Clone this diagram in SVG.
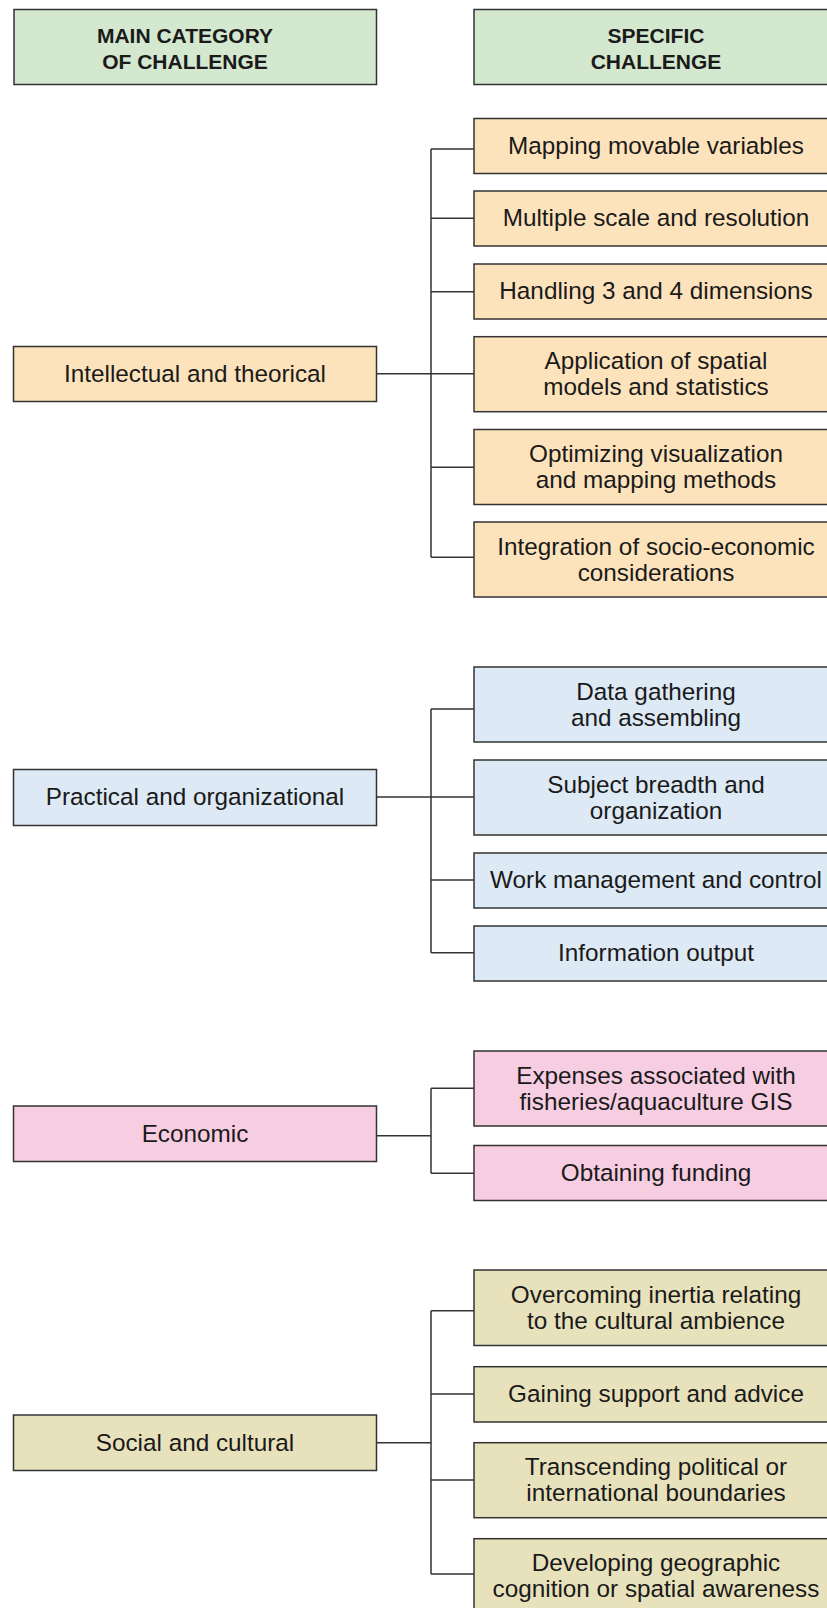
<svg xmlns="http://www.w3.org/2000/svg" width="827" height="1608" viewBox="0 0 827 1608">
<style>
rect{stroke:#333;stroke-width:1.5}
.hd{fill:#d3e8cf}.or{fill:#fde3bb}.bl{fill:#dde9f5}.pk{fill:#f7cde2}.ol{fill:#e8e2bc}
text{font-family:"Liberation Sans",Arial,sans-serif;font-size:24.3px;fill:#1a1a1a;text-anchor:middle}
.b{font-weight:bold;font-size:21px}
#connectors path{fill:none;stroke:#333;stroke-width:1.5}
</style>
<rect width="827" height="1608" fill="#fff" style="stroke:none"/>
<g id="connectors">
<path d="M376.5 373.7H431M431 149V557.3M431 149H474M431 218.3H474M431 291.7H474M431 373.7H474M431 467.3H474M431 557.3H474"/>
<path d="M376.5 797H431M431 709V952.7M431 709H474M431 797H474M431 880H474M431 952.7H474"/>
<path d="M376.5 1135.7H431M431 1088.3V1173.3M431 1088.3H474M431 1173.3H474"/>
<path d="M376.5 1442.7H431M431 1310.7V1574M431 1310.7H474M431 1394H474M431 1480H474M431 1574H474"/>
</g>
<g id="h1"><rect class="hd" x="14" y="9.5" width="362.5" height="75"/><text class="b" x="185" y="42.7">MAIN CATEGORY</text><text class="b" x="185" y="69">OF CHALLENGE</text></g>
<g id="h2"><rect class="hd" x="474" y="9.5" width="362" height="75"/><text class="b" x="656" y="42.7">SPECIFIC</text><text class="b" x="656" y="69">CHALLENGE</text></g>

<g id="c1"><rect class="or" x="13.5" y="346.5" width="363" height="55"/><text x="195" y="381.5">Intellectual and theorical</text></g>
<g id="s1"><rect class="or" x="474" y="118.5" width="362" height="55"/><text x="656" y="153.5">Mapping movable variables</text></g>
<g id="s2"><rect class="or" x="474" y="191" width="362" height="55"/><text x="656" y="226">Multiple scale and resolution</text></g>
<g id="s3"><rect class="or" x="474" y="264" width="362" height="55"/><text x="656" y="299">Handling 3 and 4 dimensions</text></g>
<g id="s4"><rect class="or" x="474" y="336.7" width="362" height="75"/><text x="656" y="369">Application of spatial</text><text x="656" y="395">models and statistics</text></g>
<g id="s5"><rect class="or" x="474" y="429.5" width="362" height="75"/><text x="656" y="462">Optimizing visualization</text><text x="656" y="488">and mapping methods</text></g>
<g id="s6"><rect class="or" x="474" y="522" width="362" height="75"/><text x="656" y="554.5">Integration of socio-economic</text><text x="656" y="580.5">considerations</text></g>

<g id="c2"><rect class="bl" x="13.5" y="769.5" width="363" height="56"/><text x="195" y="805">Practical and organizational</text></g>
<g id="s7"><rect class="bl" x="474" y="667" width="362" height="75"/><text x="656" y="700">Data gathering</text><text x="656" y="726">and assembling</text></g>
<g id="s8"><rect class="bl" x="474" y="760" width="362" height="75"/><text x="656" y="792.5">Subject breadth and</text><text x="656" y="818.5">organization</text></g>
<g id="s9"><rect class="bl" x="474" y="853" width="362" height="55"/><text x="656" y="888">Work management and control</text></g>
<g id="s10"><rect class="bl" x="474" y="926" width="362" height="55"/><text x="656" y="961">Information output</text></g>

<g id="c3"><rect class="pk" x="13.5" y="1106" width="363" height="55.5"/><text x="195" y="1141.5">Economic</text></g>
<g id="s11"><rect class="pk" x="474" y="1051" width="362" height="75"/><text x="656" y="1083.5">Expenses associated with</text><text x="656" y="1109.5">fisheries/aquaculture GIS</text></g>
<g id="s12"><rect class="pk" x="474" y="1145.5" width="362" height="55"/><text x="656" y="1180.5">Obtaining funding</text></g>

<g id="c4"><rect class="ol" x="13.5" y="1415" width="363" height="55.5"/><text x="195" y="1450.5">Social and cultural</text></g>
<g id="s13"><rect class="ol" x="474" y="1270" width="362" height="75.5"/><text x="656" y="1302.5">Overcoming inertia relating</text><text x="656" y="1328.5">to the cultural ambience</text></g>
<g id="s14"><rect class="ol" x="474" y="1366.7" width="362" height="55.3"/><text x="656" y="1401.5">Gaining support and advice</text></g>
<g id="s15"><rect class="ol" x="474" y="1442.7" width="362" height="75"/><text x="656" y="1475">Transcending political or</text><text x="656" y="1501">international boundaries</text></g>
<g id="s16"><rect class="ol" x="474" y="1538.7" width="362" height="75"/><text x="656" y="1571">Developing geographic</text><text x="656" y="1597">cognition or spatial awareness</text></g>
</svg>
